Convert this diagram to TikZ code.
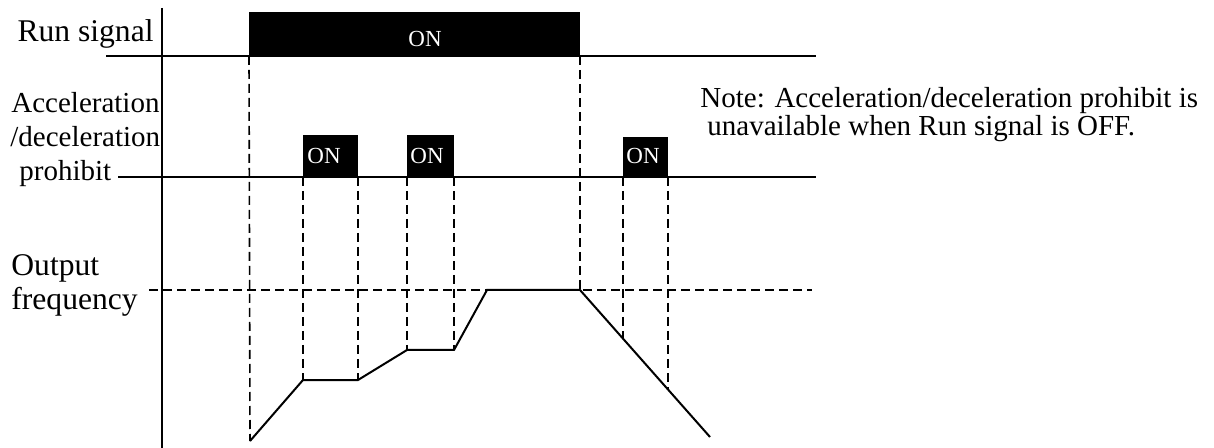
\documentclass[tikz,border=0pt]{standalone}
\usepackage{fontspec}
\setmainfont{Liberation Serif}
\usetikzlibrary{positioning}

\begin{document}
\begin{tikzpicture}[x=0.5pt, y=-0.5pt,
  sig/.style={line width=1pt},
  guide/.style={line width=0.8pt, dash pattern=on 4.5pt off 2.5pt},
  pulse/.style={fill=black},
  lbl/.style={font=\fontsize{14.5}{17}\selectfont, inner sep=0pt},
  biglbl/.style={font=\fontsize{15.8}{18}\selectfont, inner sep=0pt},
  onlbl/.style={font=\fontsize{11.5}{13}\selectfont, text=white, inner sep=0pt}]
\useasboundingbox (0,0) rectangle (1214,448);

% labels
\node[biglbl, anchor=base east] (runlbl) at (154,42) {Run signal};
\node[lbl, anchor=base west] (acc1) at (11,113) {Acceleration};
\node[lbl, anchor=base west] (acc2) at (10,147) {/deceleration};
\node[lbl, anchor=base west] (acc3) at (19,181) {prohibit};
\node[biglbl, anchor=base west] (out1) at (11,276) {Output};
\node[biglbl, anchor=base west] (out2) at (11,310) {frequency};
\node[lbl, anchor=base west] (note1) at (700,108) {Note: Acceleration/deceleration prohibit is};
\node[lbl, anchor=base west] (note2) at (707,136) {unavailable when Run signal is OFF.};

% axis and signal lines
\draw[sig] (162,8) -- (162,448);
\draw[sig] (106,56) -- (816,56);
\draw[sig] (118,177) -- (816,177);

% run signal
\fill[pulse] (249,12) rectangle (580,56);
\node[onlbl, anchor=base west] (runon) at (408,47) {ON};

% prohibit pulses
\fill[pulse] (303,135) rectangle (358,177);
\fill[pulse] (407,135) rectangle (454,177);
\fill[pulse] (623,137) rectangle (668,177);
\node[onlbl, anchor=base west] (on1) at (307,164) {ON};
\node[onlbl, anchor=base west] (on2) at (410,164) {ON};
\node[onlbl, anchor=base west] (on3) at (626,164) {ON};

% output frequency
\coordinate (f0) at (250,441);
\coordinate (f1) at (303,380);
\coordinate (f2) at (358,380);
\coordinate (f3) at (407,350);
\coordinate (f4) at (454,350);
\coordinate (f5) at (487,290);
\coordinate (f6) at (580,290);
\coordinate (f7) at (623,339);
\coordinate (f8) at (668,390);
\coordinate (f9) at (710,437);
\draw[sig] (f0) -- (f1) -- (f2) -- (f3) -- (f4) -- (f5) -- (f6) -- (f9);
\draw[guide] (149,290) -- (812,290);

% drop lines
\draw[guide] (249,56) -- (f0);
\draw[guide] (303,177) -- (f1);
\draw[guide] (358,177) -- (f2);
\draw[guide] (407,177) -- (f3);
\draw[guide] (454,177) -- (f4);
\draw[guide] (580,56) -- (f6);
\draw[guide] (623,177) -- (f7);
\draw[guide] (668,177) -- (f8);
\end{tikzpicture}
\end{document}
